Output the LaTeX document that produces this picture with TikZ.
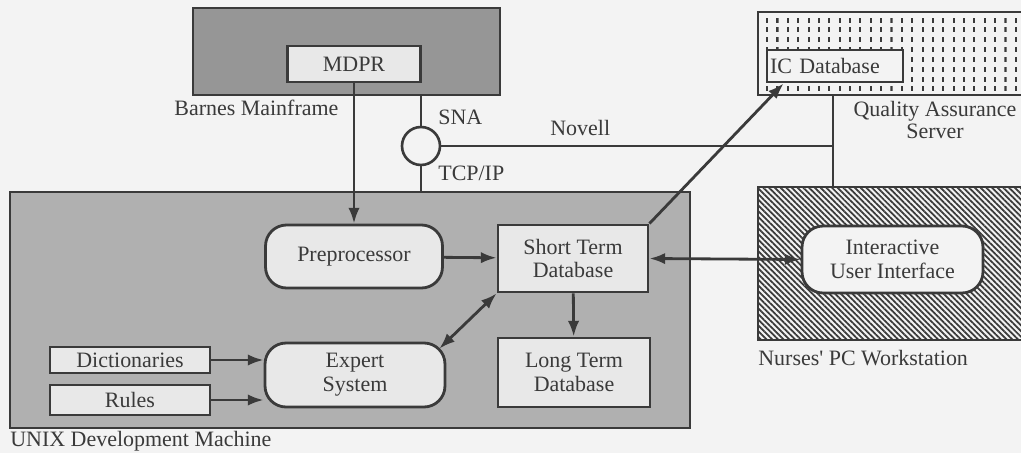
\documentclass[tikz,border=0pt]{standalone}
\usepackage{fontspec}
\setmainfont{Liberation Serif}
\usepackage{xcolor}
\usepackage{tikz}
\usetikzlibrary{shapes,arrows.meta,positioning,patterns,patterns.meta,calc}
\definecolor{ink}{HTML}{3A3A3A}
\definecolor{paper}{HTML}{F3F3F3}
\definecolor{hostgray}{HTML}{969696}
\definecolor{devgray}{HTML}{B0B0B0}
\definecolor{boxfill}{HTML}{E8E8E8}

\tikzdeclarepattern{
  name=vbars,
  type=uncolored,
  bottom left={(-0.7pt,-1.5pt)},
  top right={(0.7pt,1.5pt)},
  tile size={(5.9pt,5.6pt)},
  code={\fill (-0.6pt,-1.4pt) rectangle (0.6pt,1.4pt);}
}

\begin{document}
\begin{tikzpicture}[
    x=0.02cm, y=-0.02cm,
    font=\fontsize{12.5}{13.5}\selectfont,
    machine/.style={rectangle, draw=ink, line width=1.6pt, inner sep=0pt},
    box/.style={rectangle, draw=ink, fill=boxfill, line width=1.6pt, align=center, inner sep=1pt, text=ink},
    proc/.style={box, rounded corners=0.42cm},
    lbl/.style={inner sep=0pt, text=ink, align=center},
    link/.style={draw=ink, line width=1.6pt},
    arrow/.style={link, -{Latex[length=9pt,width=6.5pt]}},
    dblarrow/.style={link, {Latex[length=9pt,width=6.5pt]}-{Latex[length=9pt,width=6.5pt]}}
]
\clip (0,0) rectangle (1021,453);
\fill[paper] (0,0) rectangle (1021,453);

% Machines
\node[machine, fill=hostgray, minimum width=6.14cm, minimum height=1.74cm] (mainframe) at (346.5,51.5) {};
\node[machine, fill=devgray, minimum width=13.6cm, minimum height=4.72cm] (unix) at (350,310) {};
\node[machine, preaction={fill=paper}, pattern={vbars}, pattern color=ink, minimum width=5.6cm, minimum height=1.66cm] (qa) at (898,53.5) {};
\node[machine, preaction={fill=paper}, pattern={Lines[angle=-45, distance=2.3pt, line width=1pt]}, pattern color=ink, minimum width=5.6cm, minimum height=3.06cm] (nurses) at (898,263.5) {};

% Machine labels
\node[lbl, anchor=west] (mainframelbl) at (174,108) {Barnes Mainframe};
\node[lbl, anchor=west] (unixlbl) at (10,441) {UNIX Development Machine};
\node[lbl] (qalbl) at (935,120) {Quality Assurance\\[-1pt]Server};
\node[lbl, anchor=west] (nurseslbl) at (758,358) {Nurses\textquotesingle{} PC Workstation};

% Data boxes
\node[box, minimum width=2.66cm, minimum height=0.72cm] (mdpr) at (354,64) {MDPR};
\node[box, minimum width=2.72cm, minimum height=0.64cm, text width=2.6cm, align=left, fill=paper] (icdb) at (835,66) {IC Database};
\node[box, minimum width=3.0cm, minimum height=1.34cm] (short) at (573,258.5) {Short Term\\Database};
\node[box, minimum width=3.04cm, minimum height=1.38cm] (long) at (574,372.5) {Long Term\\Database};
\node[box, minimum width=3.2cm, minimum height=0.52cm] (dict) at (130,360) {Dictionaries};
\node[box, minimum width=3.2cm, minimum height=0.6cm] (rules) at (130,400) {Rules};

% Processes
\node[proc, minimum width=3.54cm, minimum height=1.26cm] (prep) at (354,256.5) {Preprocessor};
\node[proc, minimum width=3.6cm, minimum height=1.28cm] (expert) at (355,375) {Expert\\System};
\node[proc, fill=paper, minimum width=3.62cm, minimum height=1.34cm] (iui) at (892.5,259.5) {Interactive\\User Interface};

% Network
\node[circle, draw=ink, line width=1.5pt, fill=paper, minimum size=0.76cm, inner sep=0pt] (gate) at (421,146) {};
\coordinate (tap) at (833,146);
\node[lbl, anchor=west] (sna) at (438,117) {SNA};
\node[lbl, anchor=west] (tcp) at (438,173) {TCP/IP};
\node[lbl, anchor=west] (novell) at (550,128) {Novell};
\draw[link] (gate.north) -- (gate.north |- mainframe.south);
\draw[link] (gate.south) -- (gate.south |- unix.north);
\draw[link] (gate.east) -- (tap);
\draw[link] (qa.south -| tap) -- (nurses.north -| tap);

% Arrows
\draw[arrow] (mdpr) -- (prep);
\draw[arrow] (prep) -- (short);
\draw[arrow] (short) -- (long);
\draw[arrow] (dict.east) -- (dict.east -| expert.west);
\draw[arrow] (rules.east) -- (rules.east -| expert.west);
\draw[dblarrow] ([xshift=-4pt,yshift=-4pt]expert.north east) -- (short.south west);
\draw[dblarrow] (short.east) -- (iui.west);
\draw[arrow] (short.north east) -- ([xshift=0.36cm]icdb.south west);

\end{tikzpicture}
\end{document}
